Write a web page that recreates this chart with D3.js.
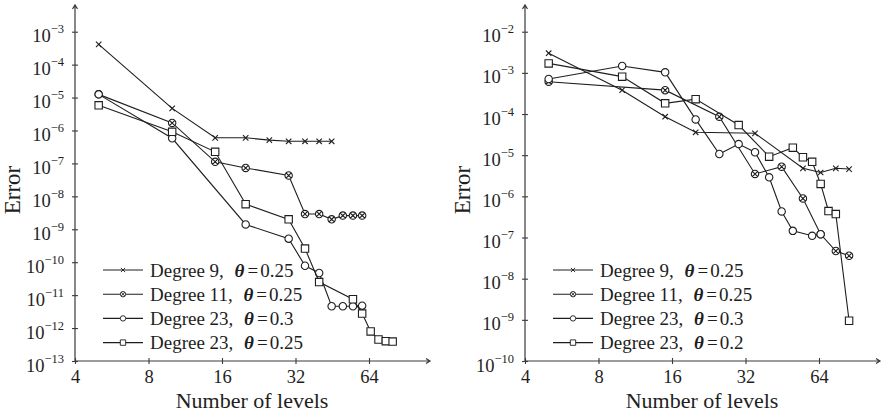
<!DOCTYPE html>
<html><head><meta charset="utf-8">
<script src="https://cdn.jsdelivr.net/npm/d3@7"></script>
<style>
body{margin:0;background:#fff}
svg{display:block}
text{font-family:"Liberation Serif","Times New Roman",serif;fill:#1e1e1e}
</style>
</head><body>
<svg id="chart" width="886" height="411"></svg>
<script>
// ---- data: error versus number of levels ----
const xTicks = [4, 8, 16, 32, 64];

// left panel
const leftDeg9Levels  = [5, 10, 15, 20, 25, 30, 35, 40, 45];
const leftDeg9Err     = [4.1e-4, 4.7e-6, 6.0e-7, 6.0e-7, 5.1e-7, 4.7e-7, 4.7e-7, 4.7e-7, 4.7e-7];
const leftDeg11Levels = [5, 10, 15, 20, 30, 35, 40, 45, 50, 55, 60];
const leftDeg11Err    = [1.25e-5, 1.7e-6, 1.12e-7, 7.3e-8, 4.3e-8, 2.9e-9, 2.9e-9, 2.0e-9, 2.6e-9, 2.6e-9, 2.6e-9];
const leftDeg23aLevels = [5, 10, 20, 30, 35, 40, 45, 50, 55, 60];
const leftDeg23aErr    = [1.25e-5, 5.8e-7, 1.4e-9, 5.2e-10, 7.8e-11, 4.7e-11, 4.6e-12, 4.6e-12, 4.6e-12, 4.8e-12];
const leftDeg23bLevels = [5, 10, 15, 20, 30, 35, 40, 55, 60, 65, 70, 75, 80];
const leftDeg23bErr    = [5.8e-6, 9.1e-7, 2.25e-7, 5.8e-9, 2.0e-9, 2.6e-10, 2.5e-11, 7.5e-12, 2.75e-12, 7.9e-13, 4.5e-13, 4.0e-13, 3.9e-13];
const leftYTicks  = [-13, -12, -11, -10, -9, -8, -7, -6, -5, -4, -3];
const leftLegend  = ["Degree 9, |θ|=0.25", "Degree 11, |θ|=0.25", "Degree 23, |θ|=0.3", "Degree 23, |θ|=0.25"];

// right panel
const rightDeg9Levels  = [5, 10, 15, 20, 35, 55, 65, 75, 85];
const rightDeg9Err     = [3.0e-3, 3.8e-4, 8.6e-5, 3.6e-5, 3.4e-5, 4.8e-6, 3.8e-6, 4.8e-6, 4.6e-6];
const rightDeg11Levels = [5, 15, 25, 35, 45, 55, 65, 75, 85];
const rightDeg11Err    = [6.1e-4, 3.8e-4, 8.6e-5, 3.5e-6, 5.25e-6, 8.9e-7, 1.2e-7, 4.7e-8, 3.6e-8];
const rightDeg23aLevels = [5, 10, 15, 20, 25, 30, 35, 40, 45, 50, 60, 65];
const rightDeg23aErr    = [7.1e-4, 1.47e-3, 1.03e-3, 7.4e-5, 1.07e-5, 1.86e-5, 1.18e-5, 2.9e-6, 4.3e-7, 1.45e-7, 1.1e-7, 1.2e-7];
const rightDeg23bLevels = [5, 10, 15, 20, 30, 40, 50, 55, 60, 65, 70, 75, 85];
const rightDeg23bErr    = [1.7e-3, 8.1e-4, 1.82e-4, 2.3e-4, 5.4e-5, 9.2e-6, 1.52e-5, 8.9e-6, 6.9e-6, 2.0e-6, 4.4e-7, 3.7e-7, 9.5e-10];
const rightYTicks = [-10, -9, -8, -7, -6, -5, -4, -3, -2];
const rightLegend = ["Degree 9, |θ|=0.25", "Degree 11, |θ|=0.25", "Degree 23, |θ|=0.3", "Degree 23, |θ|=0.2"];

const markerKinds = ["cross", "otimes", "circle", "square"];

// ---- drawing ----
const svg = d3.select("#chart");
const INK = "#1e1e1e";
const AXIS = "#3a3a3a";

function markerPath(kind, r) {
  const p = d3.path();
  if (kind === "cross") {
    const a = r * 0.8;
    p.moveTo(-a, -a); p.lineTo(a, a);
    p.moveTo(-a, a); p.lineTo(a, -a);
  } else if (kind === "circle" || kind === "otimes") {
    p.moveTo(r, 0); p.arc(0, 0, r, 0, 2 * Math.PI);
    if (kind === "otimes") {
      const a = r * Math.SQRT1_2;
      p.moveTo(-a, -a); p.lineTo(a, a);
      p.moveTo(-a, a); p.lineTo(a, -a);
    }
  } else {
    p.rect(-r, -r, 2 * r, 2 * r);
  }
  return p.toString();
}

function drawPanel(cfg) {
  const x = d3.scaleLog().base(2).domain([4, 64]).range([cfg.x0, cfg.x0 + 294]);
  const y = d3.scaleLog().domain([Math.pow(10, cfg.yTicks[0]), Math.pow(10, cfg.yTicks[cfg.yTicks.length - 1])])
    .range([361, 31.7]);
  const g = svg.append("g");
  const yBase = 361, xEnd = cfg.x0 + 355, yTop = 5;

  // y axis
  const ya = g.append("g").attr("transform", `translate(${cfg.x0},0)`)
    .call(d3.axisLeft(y).tickValues(cfg.yTicks.map(e => Math.pow(10, e))).tickFormat("").tickSize(3));
  ya.select(".domain").remove();
  ya.selectAll(".tick line").attr("x1", -3).attr("x2", 3).attr("stroke", AXIS).attr("stroke-width", 1.1);
  ya.selectAll(".tick").each(function (d) {
    const e = Math.round(Math.log10(d));
    const t = d3.select(this).append("text")
      .attr("x", -11).attr("y", 10).attr("text-anchor", "end")
      .style("font-size", "18.5px");
    t.append("tspan").text("10");
    t.append("tspan").attr("dy", -9).style("font-size", "12.5px").text("\u2212" + Math.abs(e));
  });

  // x axis
  const xa = g.append("g").attr("transform", `translate(0,${yBase})`)
    .call(d3.axisBottom(x).tickValues(xTicks).tickFormat(d3.format("d")).tickSize(3));
  xa.select(".domain").remove();
  xa.selectAll(".tick line").attr("y1", -3).attr("y2", 3).attr("stroke", AXIS).attr("stroke-width", 1.1);
  xa.selectAll(".tick text").attr("y", 21.5).attr("dy", null)
    .style("font-size", "18.5px").style("font-family", "'Liberation Serif',serif").attr("fill", INK);

  // axis lines with arrow heads
  g.append("path").attr("fill", "none").attr("stroke", AXIS).attr("stroke-width", 1.2)
    .attr("d", `M${cfg.x0},${yBase}V${yTop}M${cfg.x0 - 2.5},${yTop + 4}L${cfg.x0},${yTop}L${cfg.x0 + 2.5},${yTop + 4}` +
               `M${cfg.x0},${yBase}H${xEnd}M${xEnd - 4},${yBase - 2.5}L${xEnd},${yBase}L${xEnd - 4},${yBase + 2.5}`);

  // axis titles
  g.append("text").attr("x", cfg.x0 + 177).attr("y", 407.5).attr("text-anchor", "middle")
    .style("font-size", "22px").text("Number of levels");
  g.append("text").attr("transform", `translate(${cfg.x0 - 55},190) rotate(-90)`)
    .attr("text-anchor", "middle").style("font-size", "23px").text("Error");

  // series
  const line = d3.line().x(d => x(d[0])).y(d => y(d[1]));
  cfg.series.forEach((s, i) => {
    const pts = d3.zip(s.levels, s.err);
    g.append("path").attr("d", line(pts)).attr("fill", "none")
      .attr("stroke", INK).attr("stroke-width", 1.1);
    g.selectAll(null).data(pts).join("path")
      .attr("transform", d => `translate(${x(d[0])},${y(d[1])})`)
      .attr("d", markerPath(markerKinds[i], markerKinds[i] === "cross" ? 3.4 : 3.7))
      .attr("fill", markerKinds[i] === "cross" ? "none" : "#fff")
      .attr("stroke", INK).attr("stroke-width", 1.1);
  });

  // legend
  const lx = cfg.x0 + 28;
  cfg.legend.forEach((label, i) => {
    const cy = 270 + i * 24.2;
    const lg = g.append("g").attr("transform", `translate(${lx},${cy})`);
    lg.append("line").attr("x1", 0).attr("x2", 40).attr("stroke", INK).attr("stroke-width", 1.1);
    lg.append("path").attr("transform", "translate(20,0)")
      .attr("d", markerPath(markerKinds[i], markerKinds[i] === "cross" ? 2.6 : 2.7))
      .attr("fill", markerKinds[i] === "cross" ? "none" : "#fff")
      .attr("stroke", INK).attr("stroke-width", 0.9);
    const parts = label.split("|");
    const t = lg.append("text").attr("x", 47).attr("y", 6.5).style("font-size", "19px");
    t.append("tspan").text(parts[0]);
    t.append("tspan").attr("dx", 6).style("font-style", "italic").style("font-weight", "bold").text(parts[1]);
    const rest = parts[2];
    t.append("tspan").attr("dx", 3).text(rest.charAt(0));
    t.append("tspan").attr("dx", 2).text(rest.slice(1));
  });
}

drawPanel({
  x0: 75, yTicks: leftYTicks, legend: leftLegend,
  series: [
    {levels: leftDeg9Levels, err: leftDeg9Err},
    {levels: leftDeg11Levels, err: leftDeg11Err},
    {levels: leftDeg23aLevels, err: leftDeg23aErr},
    {levels: leftDeg23bLevels, err: leftDeg23bErr}
  ]
});
drawPanel({
  x0: 525, yTicks: rightYTicks, legend: rightLegend,
  series: [
    {levels: rightDeg9Levels, err: rightDeg9Err},
    {levels: rightDeg11Levels, err: rightDeg11Err},
    {levels: rightDeg23aLevels, err: rightDeg23aErr},
    {levels: rightDeg23bLevels, err: rightDeg23bErr}
  ]
});
</script>
</body></html>
